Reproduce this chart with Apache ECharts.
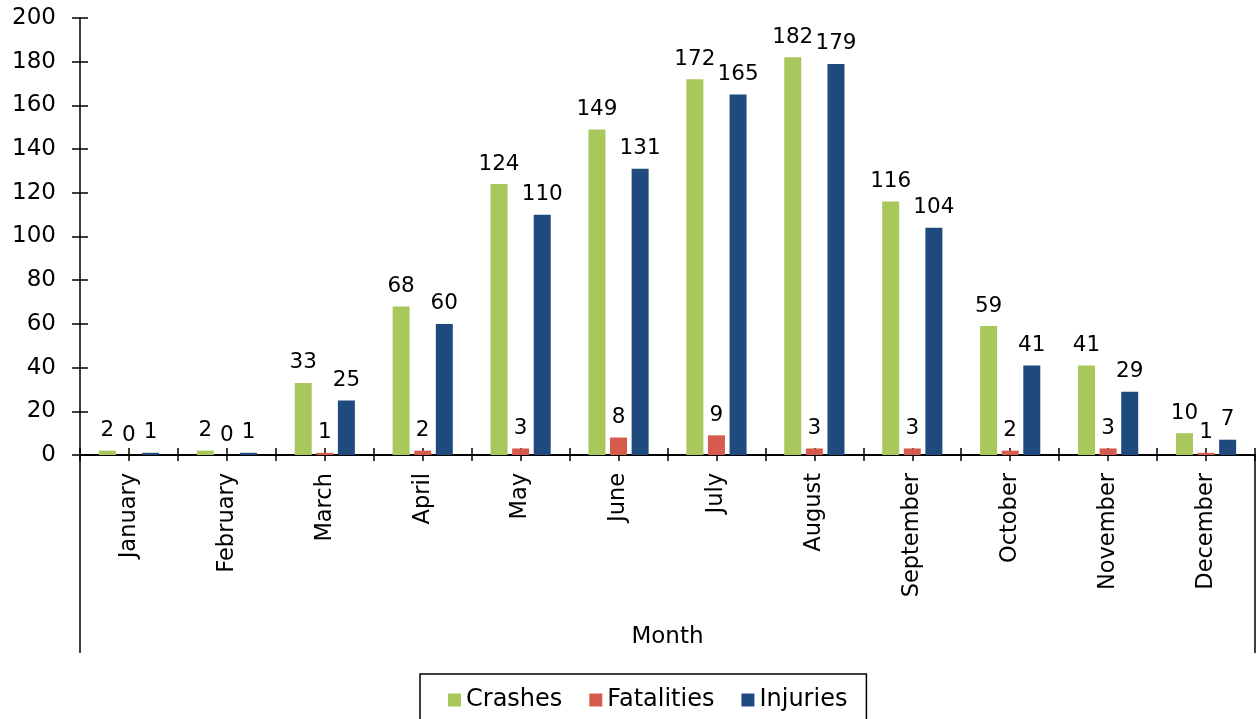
<!DOCTYPE html>
<html>
<head>
<meta charset="utf-8">
<script src="https://cdn.jsdelivr.net/npm/echarts@6/dist/echarts.min.js"></script>
<style>
html,body{margin:0;padding:0;background:#fff;}
#chart{width:1259px;height:719px;}
</style>
</head>
<body>
<div id="chart"></div>
<script>
// 月份及各项数据
var months = ['January','February','March','April','May','June','July','August','September','October','November','December'];
var crashes = [2, 2, 33, 68, 124, 149, 172, 182, 116, 59, 41, 10];
var fatalities = [0, 0, 1, 2, 3, 8, 9, 3, 3, 2, 3, 1];
var injuries = [1, 1, 25, 60, 110, 131, 165, 179, 104, 41, 29, 7];
var yTicks = [0, 20, 40, 60, 80, 100, 120, 140, 160, 180, 200];

// 半格刻度用的隐藏类目
var halfCats = [];
for (var i = 0; i < months.length * 2; i++) halfCats.push(String(i));

var font = 'DejaVu Sans';
var myChar = echarts.init(document.getElementById('chart'));

function barSeries(name, data, color) {
	return {
		name: name,
		type: 'bar',
		xAxisIndex: 0,
		yAxisIndex: 0,
		data: data,
		barWidth: 17,
		barGap: '27%',
		itemStyle: { color: color },
		label: {
			show: true,
			position: 'top',
			distance: 9,
			color: '#000',
			fontFamily: font,
			fontSize: 21.5
		}
	};
}

var option = {
	backgroundColor: '#fff',
	animation: false,
	grid: {
		left: 80,
		right: 4,
		top: 18,
		bottom: 264
	},
	legend: {
		data: ['Crashes', 'Fatalities', 'Injuries'],
		left: 420,
		top: 674,
		icon: 'rect',
		itemWidth: 13,
		itemHeight: 13,
		itemGap: 27,
		padding: [14, 19, 12, 28],
		borderColor: '#000',
		borderWidth: 1.5,
		textStyle: {
			fontFamily: font,
			fontSize: 24,
			color: '#000'
		}
	},
	xAxis: [
		{
			type: 'category',
			data: months,
			name: 'Month',
			nameLocation: 'middle',
			nameGap: 171,
			nameTextStyle: { fontFamily: font, fontSize: 23, color: '#000' },
			axisLine: { lineStyle: { color: '#000', width: 2 } },
			axisTick: { show: false },
			axisLabel: {
				rotate: 90,
				margin: 18,
				interval: 0,
				color: '#000',
				fontFamily: font,
				fontSize: 22.5
			}
		},
		{
			type: 'category',
			data: halfCats,
			position: 'bottom',
			axisLine: { show: false },
			axisLabel: { show: false },
			axisTick: { show: true, inside: true, length: 7, interval: 0, lineStyle: { color: '#000', width: 1.5 } }
		},
		{
			type: 'category',
			data: halfCats,
			position: 'bottom',
			axisLine: { show: false },
			axisLabel: { show: false },
			axisTick: { show: true, length: 6, interval: 0, lineStyle: { color: '#000', width: 1.5 } }
		}
	],
	yAxis: [
		{
			type: 'value',
			min: 0,
			max: 200,
			interval: 20,
			splitLine: { show: false },
			axisLine: { show: true, lineStyle: { color: '#000', width: 1.5 } },
			axisTick: { show: true, length: 8, lineStyle: { color: '#000', width: 1.5 } },
			axisLabel: {
				margin: 24,
				color: '#000',
				fontFamily: font,
				fontSize: 23,
				formatter: function (v) { return yTicks.indexOf(v) >= 0 ? v : ''; }
			}
		},
		{
			type: 'value',
			min: 0,
			max: 200,
			interval: 20,
			position: 'left',
			splitLine: { show: false },
			axisLine: { show: false },
			axisLabel: { show: false },
			axisTick: { show: true, inside: true, length: 8, lineStyle: { color: '#000', width: 1.5 } }
		}
	],
	graphic: [
		{
			type: 'line',
			shape: { x1: 80, y1: 455, x2: 80, y2: 653 },
			style: { stroke: '#000', lineWidth: 1.5 }
		},
		{
			type: 'line',
			shape: { x1: 1255, y1: 455, x2: 1255, y2: 653 },
			style: { stroke: '#000', lineWidth: 1.5 }
		}
	],
	series: [
		barSeries('Crashes', crashes, '#A9C85C'),
		barSeries('Fatalities', fatalities, '#D75B4C'),
		barSeries('Injuries', injuries, '#1F4A7E')
	]
};
myChar.setOption(option);
</script>
</body>
</html>
